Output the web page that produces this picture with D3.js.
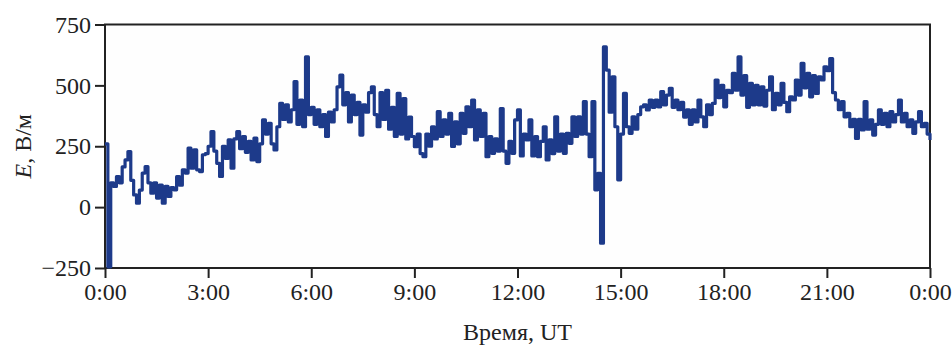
<!DOCTYPE html>
<html>
<head>
<meta charset="utf-8">
<script src="https://cdn.jsdelivr.net/npm/d3@7"></script>
<style>
  html, body { margin: 0; padding: 0; background: #ffffff; }
  svg { display: block; }
</style>
</head>
<body>
<svg id="chart" width="952" height="347"></svg>
<script>
// Atmospheric electric field E (V/m), 5-minute samples over one day (UT)
const STEP_MIN = 5;

const e00_06 = [
  260, -245, 100, 85, 125, 100, 165, 194, 228, 110, 50, 16,
  70, 140, 166, 100, 57, 100, 37, 90, 16, 85, 44, 80,
  71, 125, 90, 153, 140, 242, 160, 235, 153, 146, 215, 220,
  250, 310, 230, 180, 126, 250, 200, 276, 160, 280, 310, 240,
  290, 225, 270, 194, 283, 187, 260, 358, 300, 344, 260, 235,
  330, 426, 360, 420, 350, 400, 515, 340, 440, 330, 617, 380
];
const e06_12 = [
  410, 340, 400, 330, 380, 290, 390, 350, 400, 494, 542, 420,
  470, 350, 460, 380, 430, 296, 420, 390, 470, 494, 380, 330,
  470, 360, 480, 320, 410, 290, 467, 300, 446, 280, 370, 290,
  248, 300, 220, 207, 300, 250, 330, 280, 392, 290, 358, 300,
  385, 249, 350, 260, 385, 303, 412, 330, 440, 276, 399, 290,
  385, 207, 290, 221, 280, 230, 405, 230, 180, 270, 221, 358
];
const e12_18 = [
  399, 210, 300, 276, 358, 210, 290, 207, 270, 330, 194, 276,
  220, 371, 230, 300, 221, 303, 262, 371, 290, 371, 300, 433,
  300, 207, 433, 71, 139, -148, 658, 563, 390, 535, 330, 112,
  300, 467, 330, 303, 371, 320, 380, 412, 420, 399, 440, 410,
  440, 412, 474, 420, 460, 488, 410, 440, 400, 430, 370, 399,
  340, 399, 350, 440, 371, 330, 420, 380, 426, 522, 450, 500
];
const e18_24 = [
  412, 480, 470, 549, 480, 617, 460, 540, 410, 508, 420, 500,
  420, 494, 415, 480, 535, 400, 467, 420, 508, 430, 392, 453,
  440, 522, 460, 590, 490, 549, 453, 540, 467, 535, 522, 576,
  560, 610, 470, 440, 400, 433, 371, 385, 330, 360, 282, 360,
  317, 433, 320, 358, 296, 340, 399, 340, 385, 330, 392, 350,
  380, 440, 350, 385, 330, 358, 303, 350, 392, 330, 344, 300, 276
];

const hourTicks = [0, 3, 6, 9, 12, 15, 18, 21, 24];
const hourLabels = ["0:00", "3:00", "6:00", "9:00", "12:00", "15:00", "18:00", "21:00", "0:00"];
const eTicks = [-250, 0, 250, 500, 750];

const series = [].concat(e00_06, e06_12, e12_18, e18_24)
  .map((v, i) => ({ h: i * STEP_MIN / 60, v }));

const margin = { left: 105, right: 22, top: 24.5, bottom: 79 };
const W = 952, H = 347;
const FONT = "'Liberation Serif', 'Times New Roman', Tinos";
const fontSize = 24;

const svg = d3.select("#chart");
const x = d3.scaleLinear().domain([0, 24]).range([margin.left, W - margin.right]);
const y = d3.scaleLinear().domain([-250, 750]).range([H - margin.bottom, margin.top]);

// frame
svg.append("rect")
  .attr("x", x(0)).attr("y", y(750))
  .attr("width", x(24) - x(0)).attr("height", y(-250) - y(750))
  .attr("fill", "#fefefe").attr("stroke", "#222").attr("stroke-width", 2);

const xAxis = svg.append("g")
  .attr("transform", `translate(0,${y(-250)})`)
  .call(d3.axisBottom(x).tickValues(hourTicks)
    .tickFormat((d, i) => hourLabels[i]).tickSize(10).tickPadding(5));
const yAxis = svg.append("g")
  .attr("transform", `translate(${x(0)},0)`)
  .call(d3.axisLeft(y).tickValues(eTicks)
    .tickFormat(d => d < 0 ? "\u2212" + Math.abs(d) : String(d)).tickSize(10).tickPadding(4));

[xAxis, yAxis].forEach(g => {
  g.attr("font-family", null).attr("font-size", null);
  g.select(".domain").remove();
  g.selectAll(".tick line").attr("stroke", "#222").attr("stroke-width", 2);
  g.selectAll(".tick text")
    .style("font-family", FONT)
    .style("font-size", fontSize + "px").attr("fill", "#222");
});

// the field trace
const line = d3.line()
  .x(d => x(d.h)).y(d => y(d.v))
  .curve(d3.curveStepAfter);

svg.append("path")
  .datum(series)
  .attr("d", line)
  .attr("fill", "none")
  .attr("stroke", "#1d3a8a")
  .attr("stroke-width", 3.2)
  .attr("stroke-linejoin", "round");

// axis titles
svg.append("text")
  .attr("x", (x(0) + x(24)) / 2).attr("y", 340)
  .attr("text-anchor", "middle")
  .style("font-family", FONT).style("font-size", fontSize + "px").attr("fill", "#222")
  .text("Время, UT");

const yt = svg.append("text")
  .attr("transform", `translate(31,${(y(-250) + y(750)) / 2}) rotate(-90)`)
  .attr("text-anchor", "middle")
  .style("font-family", FONT).style("font-size", fontSize + "px").attr("fill", "#222");
yt.append("tspan").style("font-style", "italic").text("E");
yt.append("tspan").text(", В/м");
</script>
</body>
</html>
